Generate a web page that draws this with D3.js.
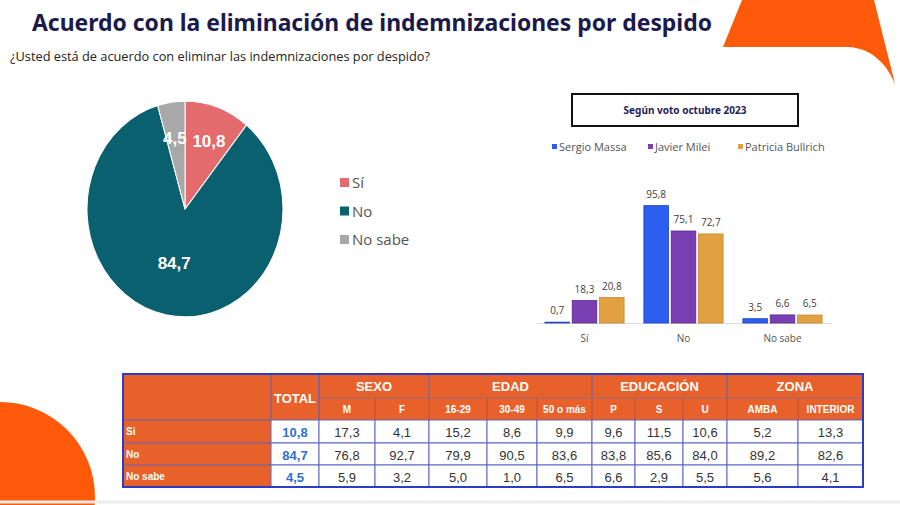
<!DOCTYPE html>
<html>
<head>
<meta charset="utf-8">
<script src="https://cdn.jsdelivr.net/npm/d3@7"></script>
<style>
  body { margin: 0; background: #fff; }
  svg { display: block; }
</style>
</head>
<body>
<svg id="chart" width="900" height="505"></svg>
<script>
// pie data
const pieLabels = ["Sí", "No", "No sabe"];
const pieValues = [10.8, 84.7, 4.5];

// bar data (according to vote October 2023)
const barCategories = ["Sí", "No", "No sabe"];
const candidates = ["Sergio Massa", "Javier Milei", "Patricia Bullrich"];
const massa = [0.7, 95.8, 3.5];
const milei = [18.3, 75.1, 6.6];
const bullrich = [20.8, 72.7, 6.5];

// table data
const tableGroups = ["SEXO", "EDAD", "EDUCACIÓN", "ZONA"];
const tableSubcols = [["M", "F"], ["16-29", "30-49", "50 o más"], ["P", "S", "U"], ["AMBA", "INTERIOR"]];
const tableRows = ["Si", "No", "No sabe"];
const tableTotal = [10.8, 84.7, 4.5];
const rowSi = [17.3, 4.1, 15.2, 8.6, 9.9, 9.6, 11.5, 10.6, 5.2, 13.3];
const rowNo = [76.8, 92.7, 79.9, 90.5, 83.6, 83.8, 85.6, 84.0, 89.2, 82.6];
const rowNoSabe = [5.9, 3.2, 5.0, 1.0, 6.5, 6.6, 2.9, 5.5, 5.6, 4.1];

const fmt = v => d3.format(".1f")(v).replace(".", ",");
const chart = d3.select("#chart");
const orange = "#fe5a0a";

// decorative shapes
chart.append("path")
    .attr("d", "M742,0 L723,47 L848,47 C870,48 886,62 895,84 L874,0 Z")
    .attr("fill", orange);
chart.append("circle")
    .attr("cx", 0).attr("cy", 497).attr("r", 95)
    .attr("fill", orange);
chart.append("line")
    .attr("x1", 0).attr("x2", 900).attr("y1", 502).attr("y2", 502)
    .attr("stroke", "#ececec").attr("stroke-width", 3);

// title + question
chart.append("text")
    .text("Acuerdo con la eliminación de indemnizaciones por despido")
    .attr("x", 32).attr("y", 31)
    .attr("textLength", 680).attr("lengthAdjust", "spacingAndGlyphs")
    .style("font-family", "Noto Sans, sans-serif")
    .style("font-weight", 700).style("font-size", "23px")
    .style("fill", "#1b1a4a");
chart.append("text")
    .text("¿Usted está de acuerdo con eliminar las indemnizaciones por despido?")
    .attr("x", 10).attr("y", 61)
    .attr("textLength", 420).attr("lengthAdjust", "spacingAndGlyphs")
    .style("font-family", "Open Sans, sans-serif")
    .style("font-size", "12px")
    .style("fill", "#222");

// ---------- pie ----------
const pieColors = ["#e46b6d", "#0b6070", "#a8a8a8"];
const pie = d3.pie().sort(null).value(d => d);
const radius = 98;
const arc = d3.arc().innerRadius(0).outerRadius(radius);
const pieG = chart.append("g").attr("transform", "translate(185,209)");
pieG.append("g").attr("transform", "scale(1,1.1)")
    .selectAll("path")
    .data(pie(pieValues)).enter()
    .append("path")
        .attr("d", arc)
        .attr("fill", (d, i) => pieColors[i])
        .attr("stroke", "#fff")
        .attr("stroke-width", 1);
pieG.selectAll("text")
    .data(pie(pieValues)).enter()
    .append("text")
        .text(d => fmt(d.data))
        .attr("transform", d => {
            let r = d.data > 50 ? 55 : 72;
            let a = (d.startAngle + d.endAngle) / 2;
            return "translate(" + (Math.sin(a) * r) + "," + (-Math.cos(a) * r) + ")";
        })
        .attr("dy", "0.36em")
        .style("text-anchor", "middle")
        .style("font-family", "Liberation Sans, Arial, sans-serif")
        .style("font-weight", 700).style("font-size", "17px")
        .style("fill", "#fff");

// pie legend
const pieLegend = chart.selectAll(".plegend")
    .data(pieLabels).enter()
    .append("g")
        .attr("class", "plegend")
        .attr("transform", (d, i) => "translate(340," + (183 + i * 28.5) + ")");
pieLegend.append("rect")
    .attr("x", 0).attr("y", -5).attr("width", 9).attr("height", 9)
    .attr("fill", (d, i) => pieColors[i]);
pieLegend.append("text")
    .text(d => d)
    .attr("x", 12).attr("y", 0).attr("dy", "0.36em")
    .style("font-family", "Open Sans, sans-serif")
    .style("font-size", "15px")
    .style("fill", "#555");

// ---------- grouped bars ----------
const barColors = ["#2c5ef0", "#7a3fb2", "#e3a040"];
const barStroke = ["#1d3fc0", "#5a2a8a", "#c98a30"];
const series = [massa, milei, bullrich];

chart.append("rect")
    .attr("x", 572).attr("y", 94).attr("width", 226).attr("height", 32)
    .attr("fill", "#fff").attr("stroke", "#111").attr("stroke-width", 2);
chart.append("text")
    .text("Según voto octubre 2023")
    .attr("x", 685).attr("y", 110).attr("dy", "0.35em")
    .style("text-anchor", "middle")
    .style("font-family", "Noto Sans, sans-serif")
    .style("font-weight", 700).style("font-size", "10px")
    .style("fill", "#1f1d5c");

const legendX = [552, 648, 738];
const barLegend = chart.selectAll(".blegend")
    .data(candidates).enter()
    .append("g")
        .attr("class", "blegend")
        .attr("transform", (d, i) => "translate(" + legendX[i] + ",147)");
barLegend.append("rect")
    .attr("x", 0).attr("y", -3).attr("width", 5).attr("height", 5)
    .attr("fill", (d, i) => barColors[i]);
barLegend.append("text")
    .text(d => d)
    .attr("x", 7).attr("y", 0).attr("dy", "0.35em")
    .style("font-family", "Open Sans, sans-serif")
    .style("font-size", "11px")
    .style("fill", "#555");

let x0 = d3.scaleBand()
    .domain(barCategories)
    .range([535, 832])
    .paddingInner(0.2)
    .paddingOuter(0.1);
let x1 = d3.scaleBand()
    .domain(d3.range(candidates.length))
    .range([0, x0.bandwidth()])
    .paddingInner(0.1);
let y = d3.scaleLinear()
    .domain([0, 100])
    .range([323, 200.5]);

chart.append("line")
    .attr("x1", 537).attr("x2", 832).attr("y1", y(0) + 0.5).attr("y2", y(0) + 0.5)
    .attr("stroke", "#d9d9d9").attr("stroke-width", 1);

const bars = chart.selectAll(".bgroup")
    .data(barCategories).enter()
    .append("g")
        .attr("class", "bgroup")
        .attr("transform", d => "translate(" + x0(d) + ",0)");
bars.selectAll("rect")
    .data((d, ci) => series.map((s, si) => ({ si: si, v: s[ci] }))).enter()
    .append("rect")
        .attr("x", d => x1(d.si))
        .attr("width", x1.bandwidth())
        .attr("y", d => y(d.v))
        .attr("height", d => y(0) - y(d.v))
        .attr("fill", d => barColors[d.si])
        .attr("stroke", d => barStroke[d.si])
        .attr("stroke-width", 0.8);
bars.selectAll("text")
    .data((d, ci) => series.map((s, si) => ({ si: si, v: s[ci] }))).enter()
    .append("text")
        .text(d => fmt(d.v))
        .attr("x", d => x1(d.si) + x1.bandwidth() / 2)
        .attr("y", d => y(d.v) - 8)
        .style("text-anchor", "middle")
        .style("font-family", "Open Sans, sans-serif")
        .style("font-size", "10px")
        .style("fill", "#404040");

chart.selectAll(".bcat")
    .data(barCategories).enter()
    .append("text")
        .attr("class", "bcat")
        .text(d => d)
        .attr("x", d => x0(d) + x0.bandwidth() / 2)
        .attr("y", 342)
        .style("text-anchor", "middle")
        .style("font-family", "Open Sans, sans-serif")
        .style("font-size", "10px")
        .style("fill", "#555");

// ---------- table ----------
const tOrange = "#e9612a";
const lineCol = "#5d66c4";
const colW = [148, 48, 56, 54, 58, 50, 55, 43, 48, 44, 71, 65];
const rowH = [24, 22, 23, 22, 22];
const tX = 123, tY = 374;
const colX = [tX].concat(Array.from(d3.cumsum(colW), c => tX + c));
const rowY = [tY].concat(Array.from(d3.cumsum(rowH), c => tY + c));
const tableValues = [rowSi, rowNo, rowNoSabe];
const tFont = "Liberation Sans, Arial, sans-serif";

const table = chart.append("g");

// header background
table.append("rect")
    .attr("x", colX[0]).attr("y", rowY[0])
    .attr("width", colX[12] - colX[0]).attr("height", rowY[2] - rowY[0])
    .attr("fill", tOrange);
table.append("rect")
    .attr("x", colX[0]).attr("y", rowY[2])
    .attr("width", colX[1] - colX[0]).attr("height", rowY[5] - rowY[2])
    .attr("fill", tOrange);

// header texts
table.append("text")
    .text("TOTAL")
    .attr("x", (colX[1] + colX[2]) / 2).attr("y", (rowY[0] + rowY[2]) / 2 + 1)
    .attr("dy", "0.36em")
    .style("text-anchor", "middle")
    .style("font-family", tFont).style("font-weight", 700).style("font-size", "13px")
    .style("fill", "#fff");

let startCol = 2;
tableGroups.forEach((g, gi) => {
    let subs = tableSubcols[gi];
    let x0g = colX[startCol], x1g = colX[startCol + subs.length];
    table.append("text")
        .text(g)
        .attr("x", (x0g + x1g) / 2).attr("y", (rowY[0] + rowY[1]) / 2)
        .attr("dy", "0.36em")
        .style("text-anchor", "middle")
        .style("font-family", tFont).style("font-weight", 700).style("font-size", "13px")
        .style("fill", "#fff");
    table.append("line")
        .attr("x1", x0g).attr("x2", x1g).attr("y1", rowY[1]).attr("y2", rowY[1])
        .attr("stroke", "#9a6a8a").attr("stroke-width", 1);
    table.append("line")
        .attr("x1", x0g).attr("x2", x0g).attr("y1", rowY[0]).attr("y2", rowY[1])
        .attr("stroke", lineCol).attr("stroke-width", 1);
    subs.forEach((s, si) => {
        let c = startCol + si;
        table.append("text")
            .text(s)
            .attr("x", (colX[c] + colX[c + 1]) / 2).attr("y", (rowY[1] + rowY[2]) / 2)
            .attr("dy", "0.36em")
            .style("text-anchor", "middle")
            .style("font-family", tFont).style("font-weight", 700).style("font-size", "10px")
            .style("fill", "#fff");
        table.append("line")
            .attr("x1", colX[c]).attr("x2", colX[c]).attr("y1", rowY[1]).attr("y2", rowY[2])
            .attr("stroke", "#b0553a").attr("stroke-width", 1);
    });
    startCol += subs.length;
});
// column lines next to label + total header
[1, 2].forEach(c => {
    table.append("line")
        .attr("x1", colX[c]).attr("x2", colX[c]).attr("y1", rowY[0]).attr("y2", rowY[2])
        .attr("stroke", lineCol).attr("stroke-width", 1);
});

// body rows
tableRows.forEach((r, ri) => {
    let yTop = rowY[ri + 2], yBot = rowY[ri + 3];
    let yMid = (yTop + yBot) / 2;
    table.append("text")
        .text(r)
        .attr("x", colX[0] + 3).attr("y", yMid)
        .attr("dy", "0.36em")
        .style("font-family", tFont).style("font-weight", 700).style("font-size", "10px")
        .style("fill", "#fff");
    let vals = [tableTotal[ri]].concat(tableValues[ri]);
    vals.forEach((v, vi) => {
        let c = vi + 1;
        table.append("rect")
            .attr("x", colX[c]).attr("y", yTop)
            .attr("width", colX[c + 1] - colX[c]).attr("height", yBot - yTop)
            .attr("fill", "#fff").attr("stroke", lineCol).attr("stroke-width", 1);
        table.append("text")
            .text(fmt(v))
            .attr("x", (colX[c] + colX[c + 1]) / 2).attr("y", yMid + 1)
            .attr("dy", "0.36em")
            .style("text-anchor", "middle")
            .style("font-family", tFont)
            .style("font-weight", vi === 0 ? 700 : 400)
            .style("font-size", "13px")
            .style("fill", vi === 0 ? "#2f6fd0" : "#333");
    });
    table.append("line")
        .attr("x1", colX[0]).attr("x2", colX[1]).attr("y1", yTop).attr("y2", yTop)
        .attr("stroke", lineCol).attr("stroke-width", 1);
});

// outer border
table.append("rect")
    .attr("x", colX[0]).attr("y", rowY[0])
    .attr("width", colX[12] - colX[0]).attr("height", rowY[5] - rowY[0])
    .attr("fill", "none").attr("stroke", "#2b3dc4").attr("stroke-width", 2);
</script>
</body>
</html>
